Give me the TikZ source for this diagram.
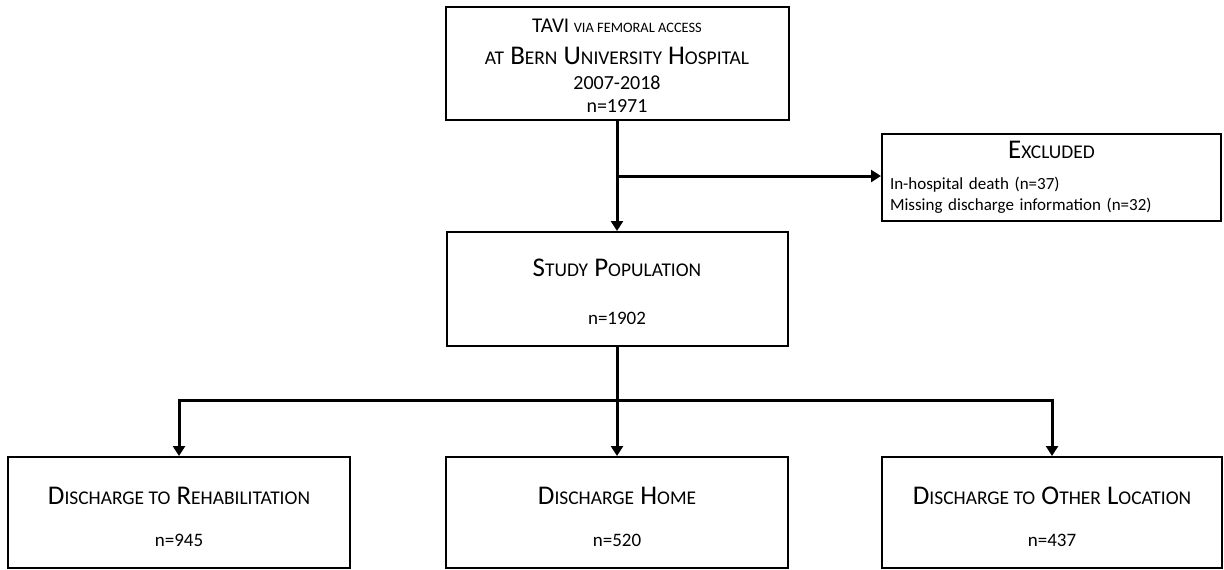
\documentclass[tikz,border=0pt]{standalone}
\usepackage{fontspec}
\setmainfont{Carlito}
\usetikzlibrary{arrows.meta}
\newcommand{\smc}[2][0.72]{{\fontsize{#1em}{1em}\selectfont\MakeUppercase{#2}}}

\begin{document}
\begin{tikzpicture}[x=0.5pt,y=-0.5pt,
    box/.style={draw,line width=1pt,inner sep=0pt,align=center},
    arr/.style={-{Triangle[length=5pt,width=6pt]},line width=1.5pt}]
  \useasboundingbox (0,0) rectangle (1224,569);
  \node[box,minimum width=171.5pt,minimum height=56.5pt,font=\fontsize{10}{11.5}\selectfont] (tavi) at (617,63.5)
    {\rule{0pt}{9pt}{\fontsize{10.5}{12}\selectfont TAVI} \smc[0.72]{via femoral access}\\[4.5pt]
     {\fontsize{13.5}{16}\selectfont\smc{at} B\smc{ern} U\smc{niversity} H\smc{ospital}}\\[1pt]
     2007-2018\\ n=1971};
  \node[box,minimum width=169.5pt,minimum height=43.5pt,text width=161.5pt,align=left,font=\fontsize{8.5}{10.5}\selectfont] (excl) at (1051.5,177.5)
    {\makebox[\linewidth]{\fontsize{13.5}{16}\selectfont E\smc{xcluded}}\\[5pt]
     In-hospital death (n=37)\\ Missing discharge information (n=32)};
  \node[box,minimum width=170.5pt,minimum height=57pt,font=\fontsize{9.5}{12}\selectfont] (study) at (617,289)
    {\rule{0pt}{11.7pt}{\fontsize{13.5}{16}\selectfont S\smc{tudy} P\smc{opulation}}\\[12pt] n=1902};
  \node[box,minimum width=171pt,minimum height=55.5pt,font=\fontsize{9.5}{12}\selectfont] (rehab) at (179,512.5)
    {\rule{0pt}{12.7pt}{\fontsize{13.5}{16}\selectfont D\smc{ischarge to} R\smc{ehabilitation}}\\[9pt] n=945};
  \node[box,minimum width=171pt,minimum height=55.5pt,font=\fontsize{9.5}{12}\selectfont] (home) at (617,512.5)
    {\rule{0pt}{12.7pt}{\fontsize{13.5}{16}\selectfont D\smc{ischarge} H\smc{ome}}\\[9pt] n=520};
  \node[box,minimum width=170pt,minimum height=55.5pt,font=\fontsize{9.5}{12}\selectfont] (other) at (1052,512.5)
    {\rule{0pt}{12.7pt}{\fontsize{13.5}{16}\selectfont D\smc{ischarge to} O\smc{ther} L\smc{ocation}}\\[9pt] n=437};
  \coordinate (split1) at (617,176);
  \coordinate (split2) at (617,400);
  \draw[arr] (tavi) -- (study);
  \draw[arr] (split1) -- (split1 -| excl.west);
  \draw[arr] (study) -- (home);
  \draw[arr] (split2) -| (rehab);
  \draw[arr] (split2) -| (other);
\end{tikzpicture}
\end{document}
